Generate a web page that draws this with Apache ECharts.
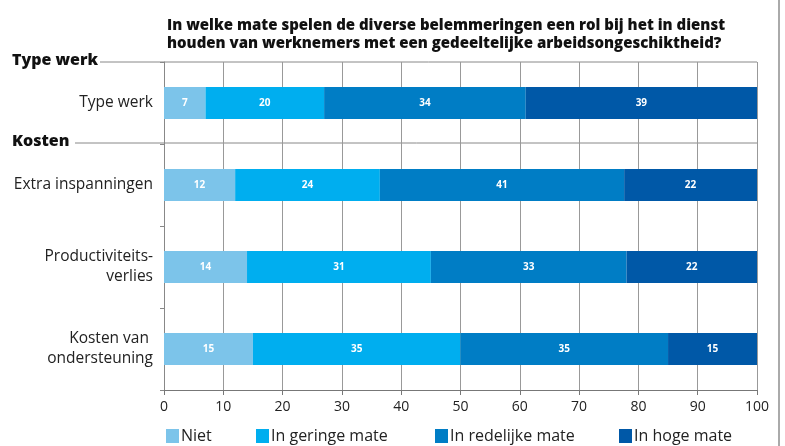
<!DOCTYPE html>
<html>
<head>
<meta charset="utf-8">
<script src="https://cdn.jsdelivr.net/npm/echarts@6/dist/echarts.min.js"></script>
<style>
  html, body { margin: 0; padding: 0; background: #fff; }
  #chart { width: 785px; height: 446px; }
</style>
</head>
<body>
<div id="chart"></div>
<script>
// categorieën (van boven naar beneden)
var categories = ['Type werk', 'Extra inspanningen', 'Productiviteits-\nverlies', 'Kosten van \nondersteuning'];
var seriesNames = ['Niet', 'In geringe mate', 'In redelijke mate', 'In hoge mate'];
// waarden per antwoord
var niet      = [7, 12, 14, 15];
var geringe   = [20, 24.4, 31, 35];
var redelijke = [34, 41.2, 33, 35];
var hoge      = [39, 22.4, 22, 15];
var colors = ['#7cc4ea', '#00aeef', '#007dc5', '#0058a7'];
var legendLeft = [166, 256, 435, 619];

var fontName = 'Open Sans';
var myChart = echarts.init(document.getElementById('chart'));

var values = [niet, geringe, redelijke, hoge];
var series = [];
var legends = [];
for (var i = 0; i < values.length; i++) {
  series.push({
    name: seriesNames[i],
    type: 'bar',
    stack: 'totaal',
    barWidth: 32,
    data: values[i],
    itemStyle: { color: colors[i] },
    label: {
      show: true,
      position: 'inside',
      color: '#fff',
      fontFamily: fontName,
      fontWeight: 'bold',
      fontSize: 10,
      formatter: function (p) { return Math.round(p.value); }
    }
  });
  legends.push({
    data: [seriesNames[i]],
    left: legendLeft[i],
    top: 428,
    padding: 0,
    icon: 'rect',
    itemWidth: 13,
    itemHeight: 14,
    textStyle: { fontFamily: fontName, fontSize: 16, color: '#222', padding: [0, 0, 0, -3] }
  });
}

var option = {
  animation: false,
  textStyle: { fontFamily: fontName },
  title: {
    text: 'In welke mate spelen de diverse belemmeringen een rol bij het in dienst\nhouden van werknemers met een gedeeltelijke arbeidsongeschiktheid?',
    left: 162,
    top: 12,
    textStyle: { fontFamily: fontName, fontWeight: 800, fontSize: 15, color: '#111', lineHeight: 18 }
  },
  legend: legends,
  grid: { left: 164, right: 28, top: 62, bottom: 56 },
  xAxis: {
    type: 'value',
    min: 0,
    max: 100,
    interval: 10,
    axisLine: { show: true, lineStyle: { color: '#777', width: 1 } },
    axisTick: { show: true, length: 5, lineStyle: { color: '#777' } },
    axisLabel: { color: '#222', fontSize: 14, margin: 10, fontFamily: fontName },
    splitLine: { show: true, lineStyle: { color: '#999', width: 1 } }
  },
  yAxis: {
    type: 'category',
    inverse: true,
    data: categories,
    axisLine: { show: true, lineStyle: { color: '#888' } },
    axisTick: { show: true, length: 4, lineStyle: { color: '#888' } },
    axisLabel: { color: '#222', fontSize: 15.5, margin: 11, lineHeight: 20, align: 'right', fontFamily: fontName }
  },
  graphic: [
    { type: 'text', left: 12, top: 52, style: { text: 'Type werk', font: '800 16px "Open Sans"', fill: '#111' } },
    { type: 'line', shape: { x1: 100, y1: 62, x2: 757, y2: 62 }, style: { stroke: '#888', lineWidth: 1 } },
    { type: 'text', left: 12, top: 133, style: { text: 'Kosten', font: '800 16px "Open Sans"', fill: '#111' } },
    { type: 'line', shape: { x1: 75, y1: 143, x2: 758, y2: 143 }, style: { stroke: '#888', lineWidth: 1 } },
    { type: 'line', shape: { x1: 779, y1: 0, x2: 779, y2: 446 }, style: { stroke: '#aaa', lineWidth: 2 } }
  ],
  series: series
};

myChart.setOption(option);
</script>
</body>
</html>
